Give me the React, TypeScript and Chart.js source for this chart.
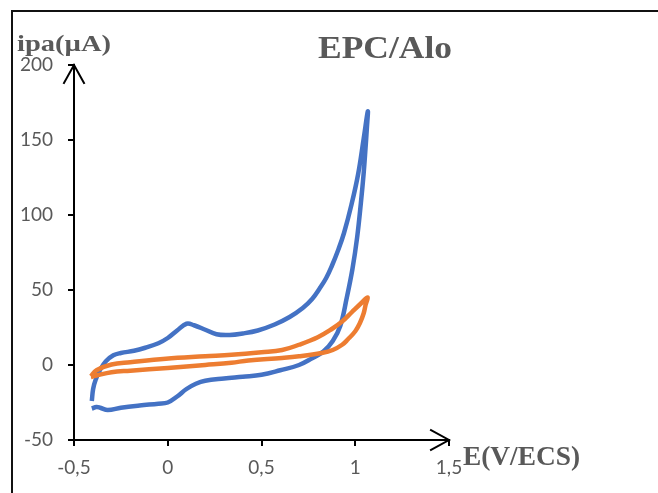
import React, { useEffect, useRef } from "react";
import { Chart, registerables } from "chart.js";

Chart.register(...registerables);

// Blue curve (EPC/Alo) : potential (V/ECS) and current (µA), in scan order
const blueE = [
  -0.405, -0.398, -0.385, -0.36, -0.33, -0.29, -0.25, -0.18, -0.12, -0.05, 0.0, 0.05, 0.1, 0.14, 0.2, 0.26, 0.33, 0.4,
  0.48, 0.57, 0.65, 0.72, 0.77, 0.81, 0.845, 0.875, 0.91, 0.94, 0.98, 1.015, 1.045, 1.067,
  1.062, 1.055, 1.045, 1.03, 1.01, 0.985, 0.955, 0.92, 0.88, 0.83, 0.77, 0.7, 0.6, 0.5, 0.4, 0.3, 0.2, 0.15, 0.1,
  0.05, 0.0, -0.05, -0.15, -0.25, -0.32, -0.36, -0.38, -0.405,
];
const blueI = [
  -24, -16, -10, -3, 2.5, 6.5, 8, 9.5, 11.5, 14.5, 18, 23, 27.5, 26.5, 23.5, 20.5, 20, 21,
  23, 27, 32, 38, 44, 51, 58, 66, 77, 88, 107, 127, 151, 169,
  158, 145, 128, 108, 85, 64, 45, 26, 16, 9, 4.5, 0, -3.5, -6.5, -7.8, -9, -10.5, -12.5, -16,
  -21, -25, -25.8, -27, -28.5, -30, -28.5, -28, -29,
];

// Orange curve (blank)
const orangeE = [
  -0.41, -0.38, -0.3, -0.2, -0.01, 0.2, 0.34, 0.5, 0.61, 0.7, 0.8, 0.875, 0.93, 0.98, 1.03, 1.065,
  1.055, 1.045, 1.025, 1.0, 0.96, 0.93, 0.88, 0.82, 0.7, 0.61, 0.43, 0.34, 0.2, 0.0, -0.2, -0.3, -0.385, -0.41,
];
const orangeI = [
  -7.5, -3.5, 0.3, 1.8, 4.2, 5.8, 6.8, 8.5, 10, 13.5, 18.5, 24, 29, 35, 41, 45,
  40, 34.5, 28, 22.5, 17, 13.5, 10, 8, 5.8, 4.7, 3, 1.5, 0, -2, -3.8, -4.8, -7.2, -8,
];

const xMin = -0.5;
const xMax = 1.5;
const xStep = 0.5;
const yMin = -50;
const yMax = 200;
const yStep = 50;

const titleText = "EPC/Alo";
const yTitle = "ipa(µA)";
const xTitle = "E(V/ECS)";

const GRAY = "#595959";
const SERIF = '"Liberation Serif", "Times New Roman", serif';

function stretchText(ctx: CanvasRenderingContext2D, text: string, x: number, y: number, w: number, font: string) {
  ctx.save();
  ctx.font = font;
  ctx.fillStyle = GRAY;
  ctx.textAlign = "left";
  ctx.textBaseline = "alphabetic";
  const m = ctx.measureText(text).width;
  ctx.translate(x, y);
  ctx.scale(w / m, 1);
  ctx.fillText(text, 0, 0);
  ctx.restore();
}

const decor = {
  id: "decor",
  beforeDraw(chart: any) {
    const ctx = chart.ctx as CanvasRenderingContext2D;
    ctx.save();
    ctx.fillStyle = "#fff";
    ctx.fillRect(0, 0, chart.width, chart.height);
    ctx.strokeStyle = "#111";
    ctx.lineWidth = 2;
    ctx.beginPath();
    ctx.moveTo(12, chart.height);
    ctx.lineTo(12, 11);
    ctx.lineTo(chart.width, 11);
    ctx.stroke();
    ctx.restore();
  },
  afterDraw(chart: any) {
    const ctx = chart.ctx as CanvasRenderingContext2D;
    const { left, right, top, bottom } = chart.chartArea;
    ctx.save();
    ctx.strokeStyle = "#000";
    ctx.lineWidth = 2;
    ctx.lineCap = "square";
    ctx.beginPath();
    ctx.moveTo(left - 10, top + 18);
    ctx.lineTo(left, top);
    ctx.lineTo(left + 10, top + 18);
    ctx.moveTo(right - 18, bottom - 10);
    ctx.lineTo(right, bottom);
    ctx.lineTo(right - 18, bottom + 10);
    ctx.stroke();
    ctx.restore();

    stretchText(ctx, titleText, 318, 58, 134, `bold 32px ${SERIF}`);
    stretchText(ctx, yTitle, 17, 51, 94, `bold 24px ${SERIF}`);
    stretchText(ctx, xTitle, 463, 465, 117, `bold 28px ${SERIF}`);
  },
};

export default function App() {
  const ref = useRef<HTMLCanvasElement | null>(null);
  useEffect(() => {
    document.body.style.margin = "0";
    const canvas = ref.current!;
    const blue = blueE.map((x, i) => ({ x, y: blueI[i] }));
    const orange = orangeE.map((x, i) => ({ x, y: orangeI[i] }));
    const tickFont = { family: "Lato, 'Open Sans', sans-serif", size: 19 };
    const chart = new Chart(canvas, {
      type: "scatter",
      data: {
        datasets: [
          {
            label: "blank",
            data: orange,
            showLine: true,
            borderColor: "#ED7D31",
            borderWidth: 4.5,
            pointRadius: 0,
            tension: 0.4,
            fill: false,
          },
          {
            label: "EPC/Alo",
            data: blue,
            showLine: true,
            borderColor: "#4472C4",
            borderWidth: 4.5,
            pointRadius: 0,
            tension: 0.4,
            fill: false,
          },
        ],
      },
      options: {
        responsive: false,
        animation: false,
        devicePixelRatio: 1,
        layout: { padding: { left: 0, top: 65, right: 209, bottom: 0 } },
        plugins: { legend: { display: false }, tooltip: { enabled: false }, title: { display: false } },
        scales: {
          x: {
            type: "linear",
            min: xMin,
            max: xMax,
            afterFit: (s: any) => {
              s.height = 53;
            },
            ticks: {
              stepSize: xStep,
              color: GRAY,
              font: tickFont,
              padding: 10,
              maxRotation: 0,
              callback: (v: any) => String(v).replace(".", ","),
            },
            grid: { drawOnChartArea: false, drawTicks: true, tickLength: 6, color: "#000", lineWidth: 2 },
            border: { display: true, color: "#000", width: 2 },
          },
          y: {
            type: "linear",
            min: yMin,
            max: yMax,
            afterFit: (s: any) => {
              s.width = 74;
            },
            ticks: {
              stepSize: yStep,
              color: GRAY,
              font: tickFont,
              padding: 15,
            },
            grid: { drawOnChartArea: false, drawTicks: true, tickLength: 6, color: "#000", lineWidth: 2 },
            border: { display: true, color: "#000", width: 2 },
          },
        },
      },
      plugins: [decor],
    });
    return () => chart.destroy();
  }, []);
  return <canvas ref={ref} width={658} height={493} style={{ display: "block", width: 658, height: 493 }} />;
}
